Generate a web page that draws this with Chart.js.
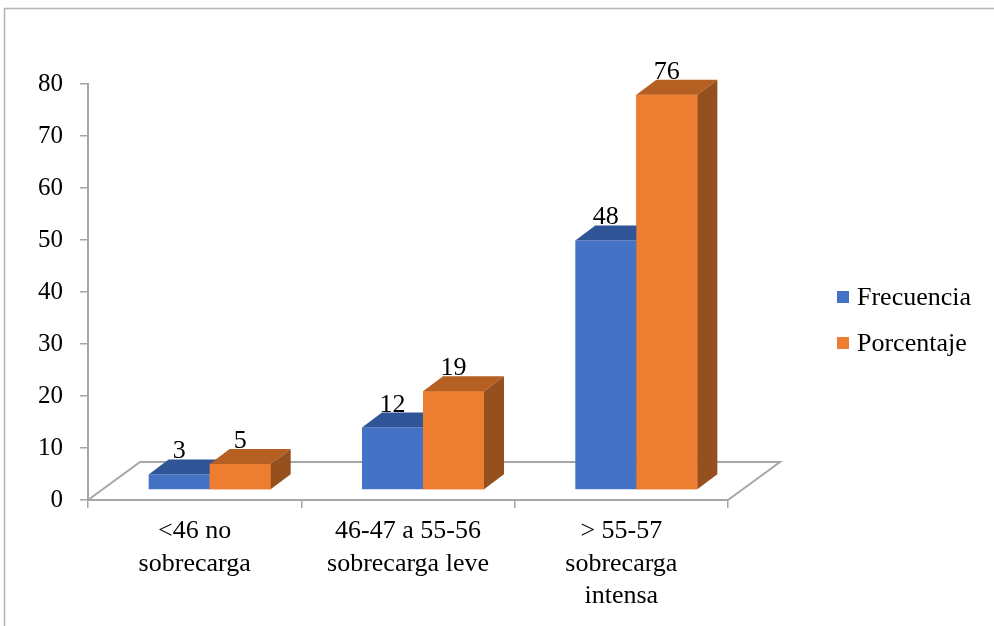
<!DOCTYPE html>
<html>
<head>
<meta charset="utf-8">
<script src="https://cdn.jsdelivr.net/npm/chart.js@4/dist/chart.umd.min.js"></script>
<style>
  html, body { margin: 0; padding: 0; background: #fff; }
  #wrap { width: 994px; height: 626px; position: relative; }
</style>
</head>
<body>
<div id="wrap"><canvas id="c" width="994" height="626"></canvas></div>
<script>
// ---- data ----
const categories = [
  ['<46 no', 'sobrecarga'],
  ['46-47 a 55-56', 'sobrecarga leve'],
  ['> 55-57', 'sobrecarga', 'intensa']
];
const seriesNames = ['Frecuencia', 'Porcentaje'];
const frecuencia = [3, 12, 48];
const porcentaje = [5, 19, 76];
const yMin = 0, yMax = 80, yStep = 10;

// ---- styles ----
const frontColors = ['#4472C4', '#ED7D31'];
const topColors = ['#2F5597', '#B55F22'];
const sideColors = ['#2A4C88', '#96501E'];
const SERIF = '"Liberation Serif", "Times New Roman", serif';
const AXIS_GRAY = '#a6a6a6';
const BAR_DEPTH = { dx: 20, dy: -15 };
const BAR_SHIFT = { x: 15, y: -10 };
const FLOOR = { dx: 52, dy: -38 };

function drawFaces(ctx, meta, i) {
  meta.data.forEach(el => {
    const p = el.getProps(['x', 'y', 'base', 'width'], true);
    const l = p.x - p.width / 2, r = p.x + p.width / 2;
    const dx = BAR_DEPTH.dx, dy = BAR_DEPTH.dy;
    ctx.fillStyle = topColors[i];
    ctx.beginPath();
    ctx.moveTo(l, p.y);
    ctx.lineTo(l + dx, p.y + dy);
    ctx.lineTo(r + dx, p.y + dy);
    ctx.lineTo(r, p.y);
    ctx.closePath();
    ctx.fill();
    ctx.fillStyle = sideColors[i];
    ctx.beginPath();
    ctx.moveTo(r, p.y);
    ctx.lineTo(r + dx, p.y + dy);
    ctx.lineTo(r + dx, p.base + dy);
    ctx.lineTo(r, p.base);
    ctx.closePath();
    ctx.fill();
  });
}

const threeD = {
  id: 'threeD',
  beforeDraw(chart) {
    const ctx = chart.ctx;
    ctx.save();
    ctx.strokeStyle = '#b4b4b4';
    ctx.lineWidth = 1.5;
    ctx.beginPath();
    ctx.moveTo(4.5, 700);
    ctx.lineTo(4.5, 8.5);
    ctx.lineTo(1100, 8.5);
    ctx.stroke();
    ctx.restore();
  },
  beforeDatasetsDraw(chart) {
    const ctx = chart.ctx, a = chart.chartArea;
    ctx.save();
    ctx.strokeStyle = AXIS_GRAY;
    ctx.lineWidth = 2;
    ctx.beginPath();
    ctx.moveTo(a.left, a.bottom);
    ctx.lineTo(a.left + FLOOR.dx, a.bottom + FLOOR.dy);
    ctx.lineTo(a.right + FLOOR.dx, a.bottom + FLOOR.dy);
    ctx.lineTo(a.right, a.bottom);
    ctx.stroke();
    ctx.restore();
    ctx.save();
    ctx.translate(BAR_SHIFT.x, BAR_SHIFT.y);
  },
  afterDatasetsDraw(chart) {
    const ctx = chart.ctx;
    const n = chart.data.datasets.length;
    for (let i = 0; i < n; i++) {
      const meta = chart.getDatasetMeta(i);
      if (i > 0) meta.data.forEach(el => el.draw(ctx));
      drawFaces(ctx, meta, i);
    }
    ctx.fillStyle = '#000';
    ctx.font = '26px ' + SERIF;
    ctx.textAlign = 'center';
    ctx.textBaseline = 'alphabetic';
    chart.data.datasets.forEach((ds, i) => {
      const meta = chart.getDatasetMeta(i);
      meta.data.forEach((el, j) => {
        const p = el.getProps(['x', 'y'], true);
        ctx.fillText(String(ds.data[j]), p.x, p.y + BAR_DEPTH.dy - 1);
      });
    });
    ctx.restore();
    // legend
    ctx.save();
    ctx.font = '26px ' + SERIF;
    ctx.textAlign = 'left';
    ctx.textBaseline = 'middle';
    const ly = [297, 343];
    chart.data.datasets.forEach((ds, i) => {
      ctx.fillStyle = ds.backgroundColor;
      ctx.fillRect(837, ly[i] - 6, 12, 12);
      ctx.fillStyle = '#000';
      ctx.fillText(ds.label, 857, ly[i] + 1);
    });
    ctx.restore();
  }
};

new Chart(document.getElementById('c'), {
  type: 'bar',
  data: {
    labels: categories,
    datasets: [
      { label: seriesNames[0], data: frecuencia, backgroundColor: frontColors[0], clip: false },
      { label: seriesNames[1], data: porcentaje, backgroundColor: frontColors[1], clip: false }
    ]
  },
  options: {
    responsive: false,
    animation: false,
    events: [],
    layout: { padding: { left: 0, top: 84, right: 266, bottom: 0 } },
    datasets: { bar: { categoryPercentage: 0.572, barPercentage: 1.0, borderWidth: 0 } },
    plugins: { legend: { display: false }, tooltip: { enabled: false } },
    scales: {
      x: {
        afterFit(s) { s.height = 126; },
        grid: { offset: true, drawOnChartArea: false, drawTicks: true, tickLength: 8, color: AXIS_GRAY, lineWidth: 1.5 },
        border: { display: true, color: AXIS_GRAY, width: 2 },
        ticks: { color: '#000', font: { family: SERIF, size: 26, lineHeight: 1.25 }, padding: 7, maxRotation: 0, autoSkip: false }
      },
      y: {
        min: yMin, max: yMax,
        afterFit(s) { s.width = 88; },
        grid: { drawOnChartArea: false, drawTicks: true, tickLength: 8, color: AXIS_GRAY, lineWidth: 1.5 },
        border: { display: true, color: AXIS_GRAY, width: 2 },
        ticks: { stepSize: yStep, color: '#000', font: { family: SERIF, size: 25 }, padding: 17 }
      }
    }
  },
  plugins: [threeD]
});
</script>
</body>
</html>
